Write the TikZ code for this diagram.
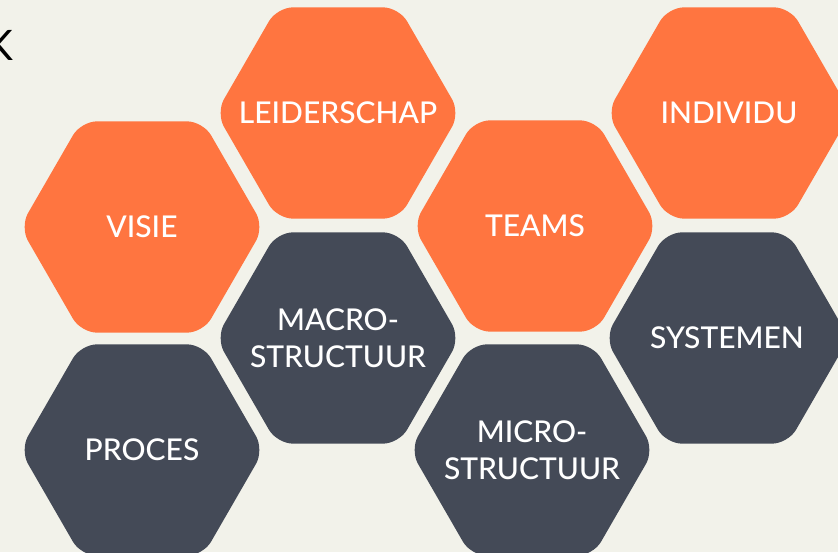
\documentclass[tikz,border=0pt]{standalone}
\usepackage{fontspec}
\setmainfont{Lato}
\IfFontExistsTF{Lato Medium}{\newfontfamily\hexfont{Lato Medium}}{\newfontfamily\hexfont{Lato}[FakeBold=0.6]}
\usetikzlibrary{shapes.geometric}
\definecolor{hexorange}{RGB}{255,117,64}
\definecolor{hexslate}{RGB}{68,74,87}
\definecolor{paper}{RGB}{242,242,234}
\tikzstyle{hexa}=[regular polygon, regular polygon sides=6, minimum size=244pt, inner sep=0pt, rounded corners=16pt]
\tikzstyle{hexo}=[hexa, fill=hexorange]
\tikzstyle{hexd}=[hexa, fill=hexslate]
\tikzstyle{hexlabel}=[inner sep=0pt, text=white, align=center, font=\hexfont\fontsize{30}{37}\selectfont]

\begin{document}
\begin{tikzpicture}[x=1pt, y=-1pt]

\fill [paper] (0,0) rectangle (838,552);
\useasboundingbox (0,0) rectangle (838,552);

\node [anchor=base east, inner sep=0pt, font=\fontsize{42}{42}\selectfont] (kay) at (14,60) {K};

\node [hexo, label={[hexlabel]center:VISIE}] (visie) at (142,227) {};
\node [hexd, label={[hexlabel]center:PROCES}] (proces) at (142,450) {};
\node [hexo, label={[hexlabel]center:LEIDERSCHAP}] (leiderschap) at (338,113) {};
\node [hexd, label={[hexlabel]center:{MACRO-\\STRUCTUUR}}] (macro) at (338,338) {};
\node [hexo, label={[hexlabel]center:TEAMS}] (teams) at (535,226) {};
\node [hexd, label={[hexlabel]center:{MICRO-\\STRUCTUUR}}] (micro) at (532,450) {};
\node [hexo, label={[hexlabel]center:INDIVIDU}] (individu) at (729,113) {};
\node [hexd, label={[hexlabel]center:SYSTEMEN}] (systemen) at (727,338) {};

\end{tikzpicture}
\end{document}
